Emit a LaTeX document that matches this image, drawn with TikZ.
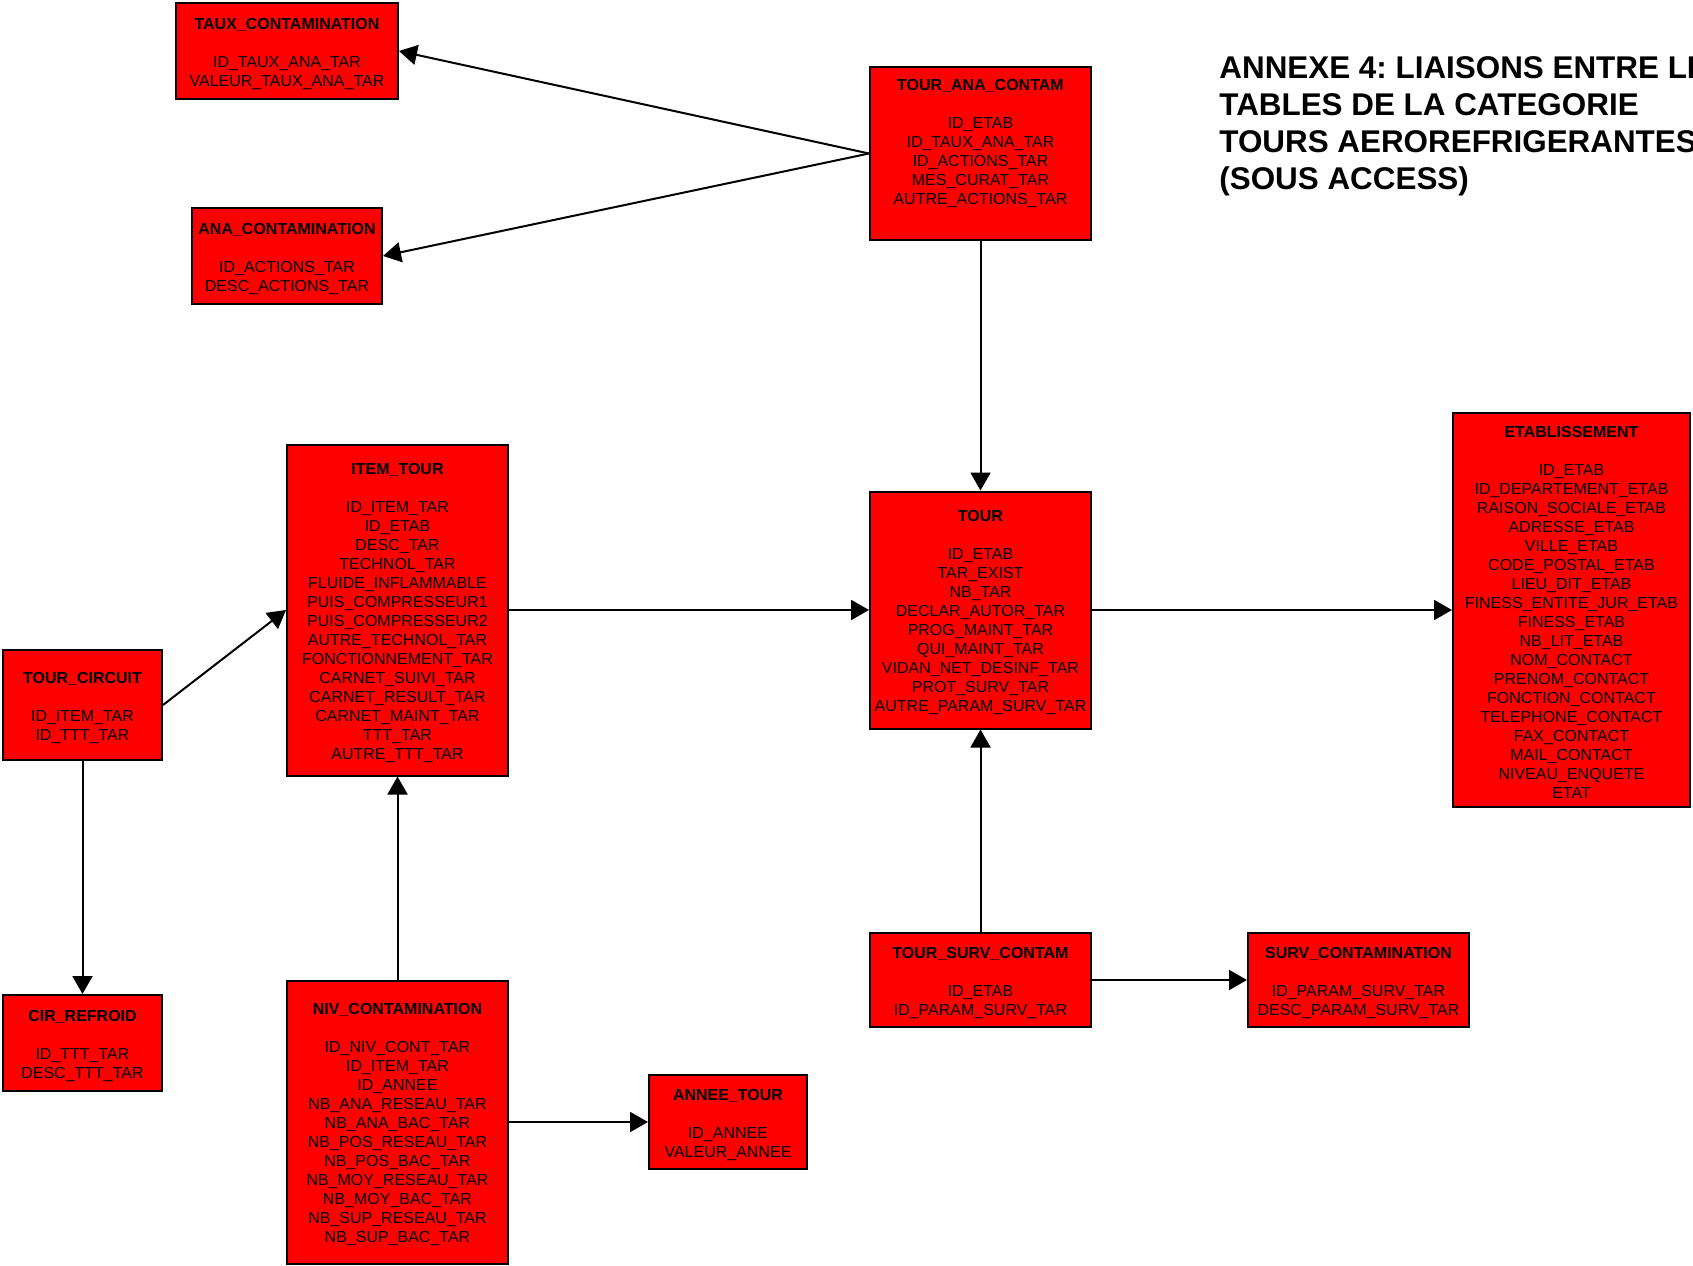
\documentclass[tikz,border=0pt]{standalone}
\usepackage{fontspec}
\setmainfont{Liberation Sans}
\usetikzlibrary{arrows.meta}
\definecolor{tablered}{RGB}{255,0,0}
\frenchspacing
\tikzset{
  table/.style={draw=black, line width=1pt, fill=tablered, align=center,
    inner sep=0pt, font=\fontsize{8pt}{9.5pt}\selectfont},
  link/.style={line width=1pt, draw=black,
    -{Triangle[length=9pt,width=10pt]}},
}
% header of a table, followed by an empty line
\newcommand{\thead}[1]{\rule{0pt}{8.2pt}\textbf{#1}\\[9.5pt]}
\begin{document}
\begin{tikzpicture}[x=0.5pt, y=-0.5pt]
\useasboundingbox (0,0) rectangle (1693,1265);
\clip (0,0) rectangle (1693,1265);

\node[table, minimum width=222*0.5pt, minimum height=96*0.5pt] (taux) at (287,51)
  {\thead{TAUX\_CONTAMINATION}ID\_TAUX\_ANA\_TAR\\VALEUR\_TAUX\_ANA\_TAR};
\node[table, minimum width=190*0.5pt, minimum height=96*0.5pt] (ana) at (287,256)
  {\thead{ANA\_CONTAMINATION}ID\_ACTIONS\_TAR\\DESC\_ACTIONS\_TAR};
\node[table, minimum width=221*0.5pt, minimum height=173*0.5pt] (tac) at (980.5,153.5)
  {\thead{TOUR\_ANA\_CONTAM}ID\_ETAB\\ID\_TAUX\_ANA\_TAR\\ID\_ACTIONS\_TAR\\MES\_CURAT\_TAR\\
   AUTRE\_ACTIONS\_TAR\rule[-14pt]{0pt}{0pt}};
\node[table, minimum width=221*0.5pt, minimum height=331*0.5pt] (item) at (397.5,610)
  {\thead{ITEM\_TOUR}ID\_ITEM\_TAR\\ID\_ETAB\\DESC\_TAR\\TECHNOL\_TAR\\FLUIDE\_INFLAMMABLE\\
   PUIS\_COMPRESSEUR1\\PUIS\_COMPRESSEUR2\\AUTRE\_TECHNOL\_TAR\\FONCTIONNEMENT\_TAR\\
   CARNET\_SUIVI\_TAR\\CARNET\_RESULT\_TAR\\CARNET\_MAINT\_TAR\\TTT\_TAR\\AUTRE\_TTT\_TAR};
\node[table, minimum width=221*0.5pt, minimum height=237*0.5pt] (tour) at (980.5,610)
  {\thead{TOUR}ID\_ETAB\\TAR\_EXIST\\NB\_TAR\\DECLAR\_AUTOR\_TAR\\PROG\_MAINT\_TAR\\
   QUI\_MAINT\_TAR\\VIDAN\_NET\_DESINF\_TAR\\PROT\_SURV\_TAR\\AUTRE\_PARAM\_SURV\_TAR};
\node[table, minimum width=237*0.5pt, minimum height=394*0.5pt] (etab) at (1571.5,610)
  {\thead{ETABLISSEMENT}ID\_ETAB\\ID\_DEPARTEMENT\_ETAB\\RAISON\_SOCIALE\_ETAB\\ADRESSE\_ETAB\\
   VILLE\_ETAB\\CODE\_POSTAL\_ETAB\\LIEU\_DIT\_ETAB\\FINESS\_ENTITE\_JUR\_ETAB\\FINESS\_ETAB\\
   NB\_LIT\_ETAB\\NOM\_CONTACT\\PRENOM\_CONTACT\\FONCTION\_CONTACT\\TELEPHONE\_CONTACT\\
   FAX\_CONTACT\\MAIL\_CONTACT\\NIVEAU\_ENQUETE\\ETAT};
\node[table, minimum width=159*0.5pt, minimum height=110*0.5pt] (circ) at (82.5,705)
  {\thead{TOUR\_CIRCUIT}ID\_ITEM\_TAR\\ID\_TTT\_TAR};
\node[table, minimum width=159*0.5pt, minimum height=96*0.5pt] (refr) at (82.5,1043)
  {\thead{CIR\_REFROID}ID\_TTT\_TAR\\DESC\_TTT\_TAR};
\node[table, minimum width=221*0.5pt, minimum height=283*0.5pt] (niv) at (397.5,1122)
  {\thead{NIV\_CONTAMINATION}ID\_NIV\_CONT\_TAR\\ID\_ITEM\_TAR\\ID\_ANNEE\\NB\_ANA\_RESEAU\_TAR\\
   NB\_ANA\_BAC\_TAR\\NB\_POS\_RESEAU\_TAR\\NB\_POS\_BAC\_TAR\\NB\_MOY\_RESEAU\_TAR\\NB\_MOY\_BAC\_TAR\\
   NB\_SUP\_RESEAU\_TAR\\NB\_SUP\_BAC\_TAR};
\node[table, minimum width=158*0.5pt, minimum height=94*0.5pt] (annee) at (728,1122)
  {\thead{ANNEE\_TOUR}ID\_ANNEE\\VALEUR\_ANNEE};
\node[table, minimum width=221*0.5pt, minimum height=94*0.5pt] (tsc) at (980.5,980)
  {\thead{TOUR\_SURV\_CONTAM}ID\_ETAB\\ID\_PARAM\_SURV\_TAR};
\node[table, minimum width=221*0.5pt, minimum height=94*0.5pt] (surv) at (1358.5,980)
  {\thead{SURV\_CONTAMINATION}ID\_PARAM\_SURV\_TAR\\DESC\_PARAM\_SURV\_TAR};

\node[anchor=north west, inner sep=0pt, align=left,
      font=\fontsize{15.7pt}{18.5pt}\selectfont\bfseries] (title) at (1219,56)
  {ANNEXE 4: LIAISONS ENTRE LES\\TABLES DE LA CATEGORIE\\TOURS AEROREFRIGERANTES\\(SOUS ACCESS)};

% relations between the tables
\draw[link] (tac.west) -- (taux.east);
\draw[link] (tac.west) -- (ana.east);
\draw[link] (tac.south) -- (tour.north);
\draw[link] (item.east) -- (tour.west);
\draw[link] (tour.east) -- (etab.west);
\draw[link] (circ.east) -- (item.west);
\draw[link] (circ.south) -- (refr.north);
\draw[link] (niv.north) -- (item.south);
\draw[link] (niv.east) -- (annee.west);
\draw[link] (tsc.north) -- (tour.south);
\draw[link] (tsc.east) -- (surv.west);
\end{tikzpicture}
\end{document}
